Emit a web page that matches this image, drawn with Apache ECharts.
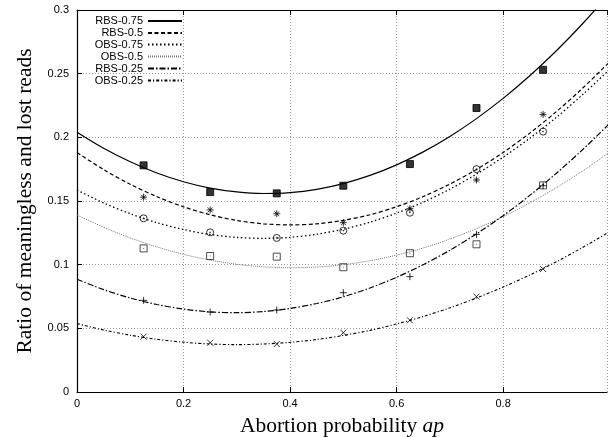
<!DOCTYPE html>
<html>
<head>
<meta charset="utf-8">
<script src="https://cdn.jsdelivr.net/npm/echarts@6/dist/echarts.min.js"></script>
<style>
  html, body { margin: 0; padding: 0; background: #fff; }
  #chart { width: 608px; height: 437px; }
</style>
</head>
<body>
<div id="chart"></div>
<script>
// measured points (x = abortion probability)
const pointX = [0.125, 0.25, 0.375, 0.5, 0.625, 0.75, 0.875];
const rbs075Pts = [0.178, 0.157, 0.156, 0.162, 0.179, 0.223, 0.253];
const rbs05Pts = [0.153, 0.143, 0.140, 0.133, 0.144, 0.1665, 0.218];
const obs075Pts = [0.1364, 0.1254, 0.121, 0.1267, 0.1408, 0.175, 0.2045];
const obs05Pts = [0.1128, 0.1068, 0.1063, 0.098, 0.109, 0.116, 0.1623];
const rbs025Pts = [0.072, 0.0628, 0.0644, 0.078, 0.0906, 0.1238, 0.162];
const obs025Pts = [0.0435, 0.0387, 0.0377, 0.0466, 0.0563, 0.0749, 0.0966];

// fitted curves, every 0.05
const curveX = [0, 0.05, 0.1, 0.15, 0.2, 0.25, 0.3, 0.35, 0.4, 0.45, 0.5,
  0.55, 0.6, 0.65, 0.7, 0.75, 0.8, 0.85, 0.9, 0.95, 1.0];
const rbs075Fit = [0.204, 0.1914, 0.1808, 0.172, 0.1651, 0.1601, 0.1571, 0.1559, 0.1566, 0.1592, 0.1637,
  0.1701, 0.1784, 0.1886, 0.2007, 0.2147, 0.2306, 0.2484, 0.268, 0.2896, 0.313];
const rbs05Fit = [0.188, 0.1747, 0.1631, 0.1534, 0.1454, 0.1392, 0.1347, 0.1321, 0.1312, 0.1321, 0.1348,
  0.1392, 0.1455, 0.1535, 0.1633, 0.1748, 0.1881, 0.2033, 0.2202, 0.2389, 0.2593];
const obs075Fit = [0.1586, 0.1485, 0.140, 0.133, 0.1276, 0.1237, 0.1214, 0.1207, 0.1215, 0.1239, 0.1278,
  0.1334, 0.1405, 0.1491, 0.1593, 0.1711, 0.1844, 0.1993, 0.2157, 0.2338, 0.2534];
const obs05Fit = [0.139, 0.1294, 0.121, 0.1139, 0.1081, 0.1036, 0.1003, 0.0983, 0.0976, 0.0981, 0.100,
  0.1031, 0.1075, 0.1131, 0.1201, 0.1283, 0.1377, 0.1485, 0.1605, 0.1738, 0.1884];
const rbs025Fit = [0.0885, 0.0804, 0.0738, 0.0687, 0.0651, 0.0629, 0.0623, 0.0632, 0.0656, 0.0695, 0.0748,
  0.0817, 0.0901, 0.100, 0.1113, 0.1242, 0.1385, 0.1544, 0.1718, 0.1906, 0.211];
const obs025Fit = [0.0537, 0.0487, 0.0446, 0.0414, 0.0391, 0.0377, 0.0372, 0.0377, 0.039, 0.0412, 0.0444,
  0.0484, 0.0534, 0.0593, 0.0661, 0.0738, 0.0824, 0.0919, 0.1023, 0.1137, 0.1259];

const names = ["RBS-0.75", "RBS-0.5", "OBS-0.75", "OBS-0.5", "RBS-0.25", "OBS-0.25"];

const sans = "Liberation Sans";
const serif = "Liberation Serif";

const pair = (xs, ys) => xs.map((x, i) => [x, ys[i]]);

// line look per series
const lineLooks = [
  { color: "#000", type: "solid", width: 1.2 },
  { color: "#000", type: [4, 2.5], width: 1.2 },
  { color: "#000", type: [1.5, 2.5], width: 1.3 },
  { color: "#777", type: [1, 1], width: 1 },
  { color: "#000", type: [6, 2, 1.5, 2], width: 1.2 },
  { color: "#000", type: [3, 2, 1.2, 2], width: 1.1 },
];

// gnuplot point types
const marks = [
  { symbol: "rect", size: 7, fill: "#000" },
  { symbol: "path://M5,0L5,10M0,5L10,5M1.5,1.5L8.5,8.5M8.5,1.5L1.5,8.5", size: 7, fill: "none" },
  { symbol: "path://M10,5A5,5 0 1 1 0,5A5,5 0 1 1 10,5ZM5.6,5A0.6,0.6 0 1 1 4.4,5A0.6,0.6 0 1 1 5.6,5Z", size: 7, fill: "none" },
  { symbol: "path://M0,0L10,0L10,10L0,10ZM5,4.4L5,5.6", size: 7, fill: "none" },
  { symbol: "path://M5,0L5,10M0,5L10,5", size: 7, fill: "none" },
  { symbol: "path://M0,0L10,10M10,0L0,10", size: 6, fill: "none" },
];

const fits = [rbs075Fit, rbs05Fit, obs075Fit, obs05Fit, rbs025Fit, obs025Fit];
const pts = [rbs075Pts, rbs05Pts, obs075Pts, obs05Pts, rbs025Pts, obs025Pts];

const series = [];
names.forEach((name, i) => {
  series.push({
    name: name,
    type: "line",
    data: pair(curveX, fits[i]),
    smooth: 0.3,
    symbol: "none",
    clip: true,
    silent: true,
    lineStyle: lineLooks[i],
    itemStyle: { color: lineLooks[i].color },
    z: 3,
  });
  series.push({
    name: name + "-pts",
    type: "scatter",
    data: pair(pointX, pts[i]),
    symbol: marks[i].symbol,
    symbolSize: marks[i].size,
    silent: true,
    itemStyle: {
      color: marks[i].fill,
      borderColor: i === 3 ? "#222" : "#000",
      borderWidth: 1,
    },
    z: 4,
  });
});

// one legend per row so the samples line up on the right
const legendTops = [15.5, 27.5, 39, 51, 63, 75];
const legends = names.map((name, i) => ({
  data: [name],
  align: "right",
  right: 425,
  top: legendTops[i],
  padding: 0,
  itemWidth: 34,
  itemHeight: 10,
  selectedMode: false,
  itemStyle: { opacity: 0 },
  textStyle: { fontFamily: sans, fontSize: 11, color: "#000" },
}));

const chart = echarts.init(document.getElementById("chart"));
chart.setOption({
  animation: false,
  backgroundColor: "#fff",
  grid: { left: 77, right: 1, top: 10, bottom: 45, outerBoundsMode: "none" },
  legend: legends,
  xAxis: [
    {
      type: "value",
      min: 0,
      max: 0.995,
      interval: 0.2,
      name: "Abortion probability {i|ap}",
      nameLocation: "middle",
      nameGap: 23,
      nameTextStyle: {
        fontFamily: serif,
        fontSize: 21.5,
        color: "#000",
        rich: { i: { fontFamily: serif, fontSize: 21.5, fontStyle: "italic", color: "#000" } },
      },
      axisLine: { lineStyle: { color: "#000", width: 1.2 } },
      axisTick: { inside: true, length: 5, lineStyle: { color: "#000" } },
      axisLabel: { fontFamily: sans, fontSize: 11, color: "#000", margin: 6, showMaxLabel: false },
      splitLine: { show: true, lineStyle: { color: "#999", type: [1, 2], width: 1 } },
    },
    {
      type: "value",
      position: "top",
      min: 0,
      max: 0.995,
      interval: 0.2,
      axisLine: { show: true, lineStyle: { color: "#000", width: 1.2 } },
      axisTick: { show: true, inside: true, length: 5, lineStyle: { color: "#000" } },
      axisLabel: { show: false },
      splitLine: { show: false },
    },
  ],
  yAxis: {
    type: "value",
    min: 0,
    max: 0.3,
    interval: 0.05,
    name: "Ratio of meaningless and lost reads",
    nameLocation: "middle",
    nameGap: 41,
    nameTextStyle: { fontFamily: serif, fontSize: 21.5, color: "#000" },
    axisLine: { show: true, lineStyle: { color: "#000", width: 1.2 } },
    axisTick: { show: true, inside: true, length: 5, lineStyle: { color: "#000" } },
    axisLabel: { fontFamily: sans, fontSize: 11, color: "#000", margin: 8 },
    splitLine: { show: true, lineStyle: { color: "#999", type: [1, 2], width: 1 } },
  },
  series: series,
});
</script>
</body>
</html>
